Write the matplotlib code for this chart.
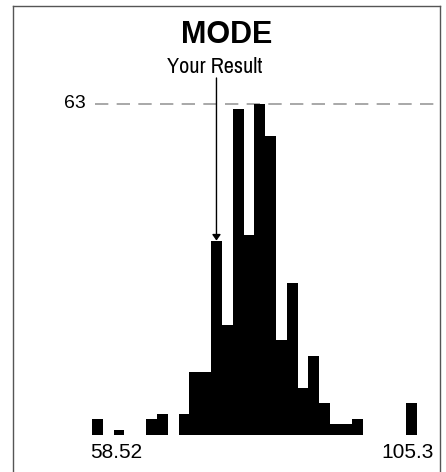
import matplotlib
matplotlib.use('Agg')
import matplotlib.pyplot as plt
from matplotlib.lines import Line2D

# histogram counts per bin (30 bins between min and max)
counts = [3, 0, 1, 0, 0, 3, 4, 0, 4, 12,
          12, 37, 21, 62, 38, 63, 57, 18, 29, 9,
          15, 6, 2, 2, 3, 0, 0, 0, 0, 6]
x_min_label = '58.52'
x_max_label = '105.3'
mode_count = 63
result_bin = 11
title = 'MODE'
result_label = 'Your Result'

plt.rcParams['font.family'] = ['Liberation Sans', 'DejaVu Sans']
narrow = ['Archivo Narrow', 'Liberation Sans', 'DejaVu Sans']

W, H = 446, 472
fig = plt.figure(figsize=(W / 100, H / 100), dpi=100)

# axes box in pixels: bars span x 92..416.7, baseline y 435, 63 at y 104
left, right, top, base = 92, 416.7, 104, 435
ax = fig.add_axes([left / W, (H - base) / H, (right - left) / W, (base - top) / H])
ax.set_xlim(-0.5, len(counts) - 0.5)
ax.set_ylim(0, mode_count)
ax.axis('off')

ax.bar(range(len(counts)), counts, width=1.0, color='black', edgecolor='none')

# dashed line at the mode count
ax.axhline(mode_count, xmin=(95 - left) / (right - left), xmax=(440 - left) / (right - left),
           color='#999999', lw=1.2, dashes=(8, 5), clip_on=False, zorder=0)
fig.text(86 / W, 1 - 104 / H, str(mode_count), ha='right', va='center', fontsize=14)

# arrow to the result bar
ax.annotate('', xy=(result_bin, counts[result_bin]), xytext=(result_bin, mode_count + 26 * mode_count / (base - top)),
            arrowprops=dict(arrowstyle='-|>,head_length=0.35,head_width=0.25', color='black', lw=1,
                            shrinkA=0, shrinkB=0), annotation_clip=False)
fig.text(215 / W, 1 - 67 / H, result_label, ha='center', va='center', fontsize=16, family=narrow)

fig.text(227 / W, 1 - 35 / H, title, ha='center', va='center', fontsize=22, fontweight='bold')

fig.text(90 / W, 1 - 453 / H, x_min_label, ha='left', va='center', fontsize=15)
fig.text(434 / W, 1 - 453 / H, x_max_label, ha='right', va='center', fontsize=15)

# frame
fx0, fx1, fy0 = 12.5 / W, 440 / W, 1 - 5.5 / H
for xs, ys in [([fx0, fx1], [fy0, fy0]), ([fx0, fx0], [fy0, 0]), ([fx1, fx1], [fy0, 0])]:
    fig.add_artist(Line2D(xs, ys, color='#555555', lw=1))

fig.savefig('out.png', dpi=100)
